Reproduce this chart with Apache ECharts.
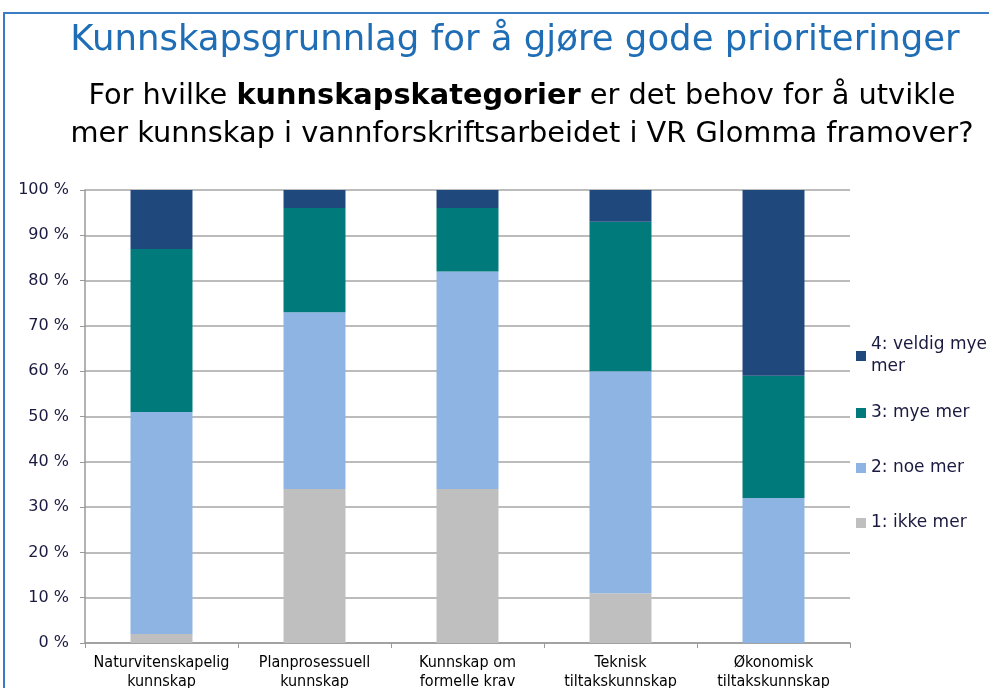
<!DOCTYPE html>
<html>
<head>
<meta charset="utf-8">
<script src="https://cdn.jsdelivr.net/npm/echarts@6/dist/echarts.min.js"></script>
<style>
  html, body { margin: 0; padding: 0; background: #fff; }
  #chart { width: 989px; height: 688px; }
</style>
</head>
<body>
<div id="chart"></div>
<script>
// categories and stacked percentages (bottom to top: 1, 2, 3, 4)
const categories = [
  'Naturvitenskapelig\nkunnskap',
  'Planprosessuell\nkunnskap',
  'Kunnskap om\nformelle krav',
  'Teknisk\ntiltakskunnskap',
  'Økonomisk\ntiltakskunnskap'
]
const ikkeMer = [2, 34, 34, 11, 0]
const noeMer = [49, 39, 48, 49, 32]
const myeMer = [36, 23, 14, 33, 27]
const veldigMyeMer = [13, 4, 4, 7, 41]
const yTicks = [0, 10, 20, 30, 40, 50, 60, 70, 80, 90, 100]

const seriesNames = ['1: ikke mer', '2: noe mer', '3: mye mer', '4: veldig mye mer']
const seriesData = [ikkeMer, noeMer, myeMer, veldigMyeMer]
const colors = ['#bfbfbf', '#8eb4e3', '#007a7a', '#1f497d']

const condensed = '"DejaVu Sans Condensed", "Liberation Sans Narrow", "DejaVu Sans", sans-serif'
const verdana = '"DejaVu Sans", Verdana, sans-serif'

const chart = echarts.init(document.getElementById('chart'))

const legendTop = { '4: veldig mye mer': 323, '3: mye mer': 402, '2: noe mer': 457, '1: ikke mer': 512 }

chart.setOption({
  animation: false,
  graphic: [
    {
      type: 'rect',
      shape: { x: 4, y: 13, width: 1100, height: 800 },
      style: { fill: 'none', stroke: '#3b7dc4', lineWidth: 2 }
    },
    {
      type: 'text',
      x: 515,
      y: 23,
      style: {
        text: 'Kunnskapsgrunnlag for å gjøre gode prioriteringer',
        font: '35.5px ' + verdana,
        fill: '#1f6db5',
        align: 'center'
      }
    },
    {
      type: 'text',
      x: 522,
      y: 78,
      style: {
        text: '{n|For hvilke }{b|kunnskapskategorier}{n| er det behov for å utvikle}\n{n|mer kunnskap i vannforskriftsarbeidet i VR Glomma framover?}',
        align: 'center',
        rich: {
          n: { font: '28.8px ' + verdana, fill: '#000', lineHeight: 38 },
          b: { font: 'bold 28.8px ' + verdana, fill: '#000', lineHeight: 38 }
        }
      }
    }
  ],
  legend: seriesNames.slice().reverse().map(function (name) {
    const item = { name: name, icon: 'rect' }
    if (name === '4: veldig mye mer') {
      item.textStyle = { padding: [22, 0, 0, 0] }
    }
    return {
      orient: 'vertical',
      left: 856,
      top: legendTop[name],
      padding: 0,
      itemWidth: 10,
      itemHeight: 10,
      itemGap: 5,
      selectedMode: false,
      data: [item],
      formatter: function (n) {
        return n === '4: veldig mye mer' ? '4: veldig mye\nmer' : n
      },
      textStyle: {
        fontFamily: verdana,
        fontSize: 17,
        color: '#1a1a40',
        lineHeight: 22
      }
    }
  }),
  grid: {
    left: 85,
    right: 139,
    top: 190,
    bottom: 45,
    outerBoundsMode: 'none'
  },
  xAxis: {
    type: 'category',
    data: categories,
    axisLine: { lineStyle: { color: '#999', width: 1.5 } },
    axisTick: { show: true, length: 5, lineStyle: { color: '#999' } },
    axisLabel: {
      interval: 0,
      fontFamily: condensed,
      fontSize: 16,
      color: '#000',
      lineHeight: 19,
      margin: 10
    }
  },
  yAxis: {
    type: 'value',
    min: yTicks[0],
    max: yTicks[yTicks.length - 1],
    interval: 10,
    axisLine: { show: true, lineStyle: { color: '#999', width: 1.5 } },
    axisTick: { show: true, length: 5, lineStyle: { color: '#999' } },
    axisLabel: {
      formatter: '{value} %',
      fontFamily: verdana,
      fontSize: 16,
      color: '#1a1a40',
      margin: 16
    },
    splitLine: { lineStyle: { color: '#a6a6a6', width: 1.5 } }
  },
  series: seriesNames.map(function (name, i) {
    return {
      name: name,
      type: 'bar',
      stack: 'total',
      barWidth: '40.5%',
      itemStyle: { color: colors[i] },
      data: seriesData[i]
    }
  })
})
</script>
</body>
</html>
